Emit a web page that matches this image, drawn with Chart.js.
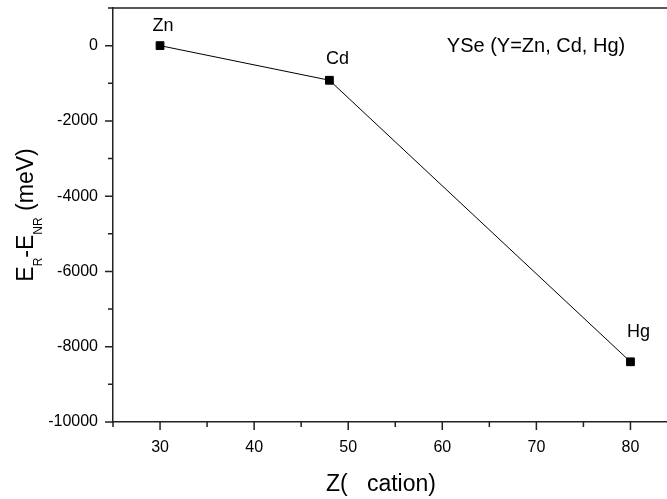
<!DOCTYPE html>
<html>
<head>
<meta charset="utf-8">
<script src="https://cdn.jsdelivr.net/npm/chart.js@4"></script>
<style>
  html, body { margin: 0; padding: 0; background: #fff; overflow: hidden; }
  #wrap { width: 684px; height: 499px; }
</style>
</head>
<body>
<div id="wrap"><canvas id="chart" width="684" height="499"></canvas></div>
<script>
// data
const cations = ['Zn', 'Cd', 'Hg'];
const zValues = [30, 48, 80];
const deltaE = [0, -920, -8400];

const xTicks = [30, 40, 50, 60, 70, 80];
const xMinorTicks = [25, 35, 45, 55, 65, 75, 85];
const yTicks = [-10000, -8000, -6000, -4000, -2000, 0];
const yMinorTicks = [-9000, -7000, -5000, -3000, -1000, 1000];

const noteText = 'YSe (Y=Zn, Cd, Hg)';
const xTitle = 'Z(   cation)';

const axisColor = '#222';
const font = '"Liberation Sans", Arial, sans-serif';

// ticks, border on top, labels and axis titles
const decorations = {
  id: 'decorations',
  afterDraw(chart) {
    const ctx = chart.ctx;
    const area = chart.chartArea;
    const xs = chart.scales.x, ys = chart.scales.y;
    ctx.save();
    ctx.strokeStyle = axisColor;
    ctx.lineWidth = 1.5;
    ctx.beginPath();
    ctx.moveTo(area.left, area.top);
    ctx.lineTo(area.right, area.top);
    xTicks.forEach(v => {
      const px = xs.getPixelForValue(v);
      ctx.moveTo(px, area.bottom); ctx.lineTo(px, area.bottom + 8);
    });
    xMinorTicks.forEach(v => {
      const px = xs.getPixelForValue(v);
      ctx.moveTo(px, area.bottom); ctx.lineTo(px, area.bottom + 5);
    });
    yTicks.forEach(v => {
      const py = ys.getPixelForValue(v);
      ctx.moveTo(area.left, py); ctx.lineTo(area.left - 8, py);
    });
    yMinorTicks.forEach(v => {
      const py = ys.getPixelForValue(v);
      ctx.moveTo(area.left, py); ctx.lineTo(area.left - 5, py);
    });
    ctx.stroke();

    // point labels
    ctx.fillStyle = '#000';
    ctx.textAlign = 'center';
    ctx.textBaseline = 'alphabetic';
    ctx.font = '18px ' + font;
    const offsets = [[3, -15], [8, -16], [8, -25]];
    cations.forEach((name, i) => {
      const px = xs.getPixelForValue(zValues[i]);
      const py = ys.getPixelForValue(deltaE[i]);
      ctx.fillText(name, px + offsets[i][0], py + offsets[i][1]);
    });

    // note
    ctx.font = '20px ' + font;
    ctx.fillText(noteText, 536, 52);

    // x title
    ctx.font = '23px ' + font;
    ctx.fillText(xTitle, 381, 491);

    // y title with subscripts
    ctx.translate(33, (area.top + area.bottom) / 2);
    ctx.rotate(-Math.PI / 2);
    ctx.textAlign = 'left';
    const parts = [
      ['E', 23, 0], ['R', 12, 9], ['-E', 23, 0], ['NR', 12, 9], [' (meV)', 23, 0]
    ];
    let total = 0;
    parts.forEach(p => { ctx.font = p[1] + 'px ' + font; total += ctx.measureText(p[0]).width; });
    let x = -total / 2;
    parts.forEach(p => {
      ctx.font = p[1] + 'px ' + font;
      ctx.fillText(p[0], x, p[2]);
      x += ctx.measureText(p[0]).width;
    });
    ctx.restore();
  }
};

const chart = new Chart(document.getElementById('chart').getContext('2d'), {
  type: 'line',
  data: {
    datasets: [{
      label: 'YSe',
      data: zValues.map((z, i) => ({ x: z, y: deltaE[i] })),
      borderColor: '#000',
      borderWidth: 1,
      backgroundColor: '#000',
      pointStyle: 'rect',
      pointRadius: 5.5,
      pointBorderWidth: 1,
      pointBackgroundColor: '#000',
      tension: 0
    }]
  },
  options: {
    responsive: false,
    animation: false,
    devicePixelRatio: 1,
    layout: { padding: { top: 8, right: 2, left: 0, bottom: 0 } },
    plugins: { legend: { display: false }, tooltip: { enabled: false } },
    scales: {
      x: {
        type: 'linear',
        min: 25,
        max: 85,
        afterBuildTicks: s => { s.ticks = xTicks.map(v => ({ value: v })); },
        afterFit: s => { s.height = 77; s.paddingLeft = 0; s.paddingRight = 0; },
        grid: { display: false, drawTicks: false },
        border: { display: true, color: axisColor, width: 1.5 },
        ticks: { color: '#000', padding: 16, maxRotation: 0, font: { family: font, size: 16 } }
      },
      y: {
        type: 'linear',
        min: -10000,
        max: 1000,
        afterBuildTicks: s => { s.ticks = yTicks.map(v => ({ value: v })); },
        afterFit: s => { s.width = 113; s.paddingTop = 0; s.paddingBottom = 0; },
        grid: { display: false, drawTicks: false },
        border: { display: true, color: axisColor, width: 1.5 },
        ticks: {
          color: '#000', padding: 15, font: { family: font, size: 16 },
          callback: v => String(v)
        }
      }
    }
  },
  plugins: [decorations]
});
</script>
</body>
</html>
